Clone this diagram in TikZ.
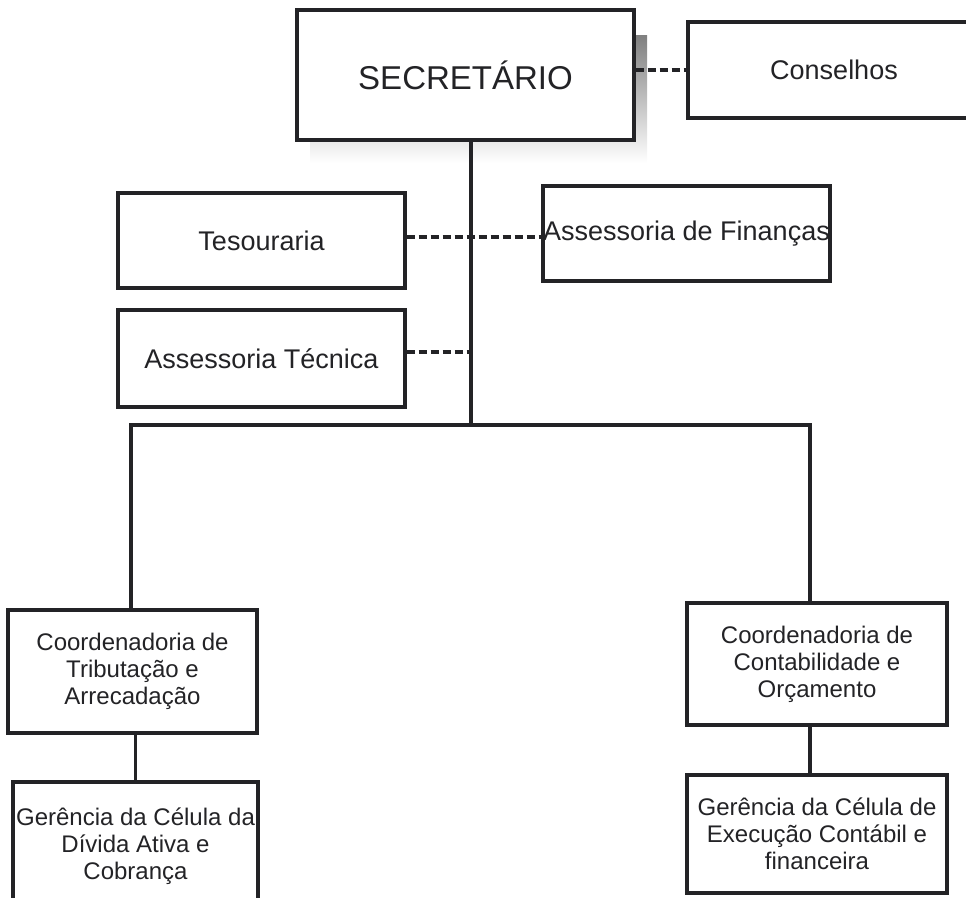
\documentclass[tikz,border=0pt]{standalone}
\usepackage{fontspec}
\setmainfont{Liberation Sans}
\definecolor{ink}{HTML}{232326}
\definecolor{shade}{HTML}{DCDCDE}
\begin{document}
\begin{tikzpicture}[x=1pt,y=-1pt,
  box/.style={draw=ink, line width=3.4pt, fill=white, text=ink, align=center, inner sep=0pt},
  conn/.style={draw=ink, line width=3.2pt},
  dsh/.style={draw=ink, line width=3.6pt, dash pattern=on 8pt off 4pt},
  big/.style={font=\fontsize{33}{38}\selectfont},
  mid/.style={font=\fontsize{27}{31}\selectfont},
  small/.style={font=\fontsize{24}{27}\selectfont}]
\useasboundingbox (0,0) rectangle (966,897);
\clip (0,0) rectangle (966,897);
% shadow of SECRETARIO
\fill[shade] (310,35) rectangle (647,163);
% nodes
\node[box, big, minimum width=337pt, minimum height=130pt] (sec) at (465.5,75) {SECRETÁRIO};
\node[box, mid, minimum width=292pt, minimum height=96pt] (cons) at (834,70) {Conselhos};
\node[box, mid, minimum width=287pt, minimum height=95pt] (tes) at (261.5,240.5) {Tesouraria};
\node[box, mid, minimum width=287pt, minimum height=95pt] (fin) at (686.5,233.5) {Assessoria de Finanças};
\node[box, mid, minimum width=287pt, minimum height=97pt] (tec) at (261.5,358.5) {Assessoria Técnica};
\node[box, small, minimum width=249pt, minimum height=123pt] (coordT) at (132.5,671.5) {Coordenadoria de\\Tributação e\\Arrecadação};
\node[box, small, minimum width=245pt, minimum height=128pt] (gerD) at (135.5,846) {Gerência da Célula da\\Dívida Ativa e\\Cobrança};
\node[box, small, minimum width=260pt, minimum height=122pt] (coordC) at (817,664) {Coordenadoria de\\Contabilidade e\\Orçamento};
\node[box, small, minimum width=260pt, minimum height=118pt] (gerE) at (817,834) {Gerência da Célula de\\Execução Contábil e\\financeira};
% junction coordinates
\coordinate (j) at (471,425);
\coordinate (lj) at (131,425);
\coordinate (rj) at (810,425);
\coordinate (yc) at (0,70);
\coordinate (yt) at (0,237);
\coordinate (ya) at (0,352);
\coordinate (ja) at (471,352);
% solid connectors
\draw[conn] (sec.south -| j) -- (j);
\draw[conn] (coordT.north -| lj) -- (lj) -- (rj) -- (coordC.north -| rj);
\draw[conn] (coordT.south -| gerD) -- (gerD.north);
\draw[conn] (coordC.south -| rj) -- (gerE.north -| rj);
% dashed connectors
\draw[dsh] (sec.east |- yc) -- (cons.west |- yc);
\draw[dsh] (tes.east |- yt) -- (fin.west |- yt);
\draw[dsh] (tec.east |- ya) -- (ja);
\end{tikzpicture}
\end{document}
